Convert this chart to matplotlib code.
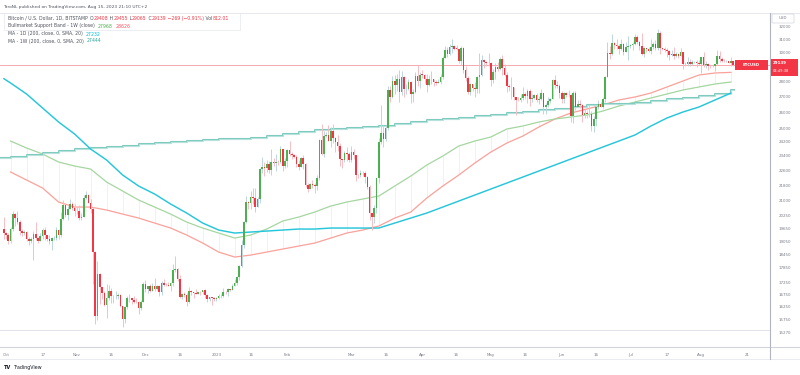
import numpy as np
import pandas as pd
import matplotlib
matplotlib.use("Agg")
import matplotlib.pyplot as plt
from matplotlib.lines import Line2D
from matplotlib.patches import Rectangle, FancyBboxPatch

plt.rcParams['font.family'] = ['DejaVu Sans']

# ---------------- data (daily BTC/USD, Bitstamp, 2022-09-30 .. 2023-08-15) ----------------
start_date = "2022-09-30"
open0 = 19590
close = [
    19423,
    # Oct
    19310, 19057, 19623, 20336, 20160, 19955, 19532, 19417, 19446, 19141, 19052, 19157, 19382, 19185, 19068, 19268,
    19550, 19334, 19139, 19053, 19172, 19208, 19567, 19345, 20095, 20771, 20295, 20595, 20818, 20635, 20495,
    # Nov
    20485, 20159, 20209, 21148, 21300, 20905, 20591, 18541, 15880, 17586, 17034, 16800, 16331, 16619, 16900,
    16663, 16687, 16697, 16712, 16280, 15781, 16226, 16600, 16602, 16522, 16458, 16428, 16213, 16443, 17168,
    # Dec
    16967, 17089, 16885, 17105, 16967, 17089, 16837, 17224, 17129, 17128, 17104, 17206, 17776, 17808, 17363, 16631,
    16776, 16737, 16437, 16895, 16823, 16819, 16778, 16837, 16830, 16918, 16707, 16547, 16633, 16603, 16542,
    # Jan
    16616, 16672, 16675, 16850, 16831, 16950, 16943, 17091, 17196, 17446, 17934, 18869, 19930, 20954, 20871, 21185,
    21133, 20677, 21071, 22667, 22783, 22707, 22916, 22633, 23060, 23009, 23078, 23031, 23774, 22840, 23125,
    # Feb
    23732, 23488, 23431, 23326, 22932, 22762, 23264, 22939, 21797, 21625, 21862, 21783, 21773, 22199, 24327, 23517,
    24565, 24637, 24282, 24833, 24436, 24188, 23947, 23198, 23175, 23555, 23492, 23147,
    # Mar
    23646, 23470, 22362, 22353, 22435, 22429, 22219, 21718, 20363, 20187, 20633, 22163, 24197, 24746, 24375, 25052,
    27423, 26965, 28038, 27767, 28175, 27307, 28333, 27493, 27494, 27994, 27139, 27268, 28348, 28033, 28478,
    # Apr
    28465, 28199, 27790, 28168, 28175, 27943, 27925, 27948, 28333, 29653, 30235, 29891, 30399, 30485, 30318, 30315,
    29445, 30397, 28823, 28245, 27276, 27817, 27591, 27525, 28307, 28422, 29473, 29340, 29249, 29268,
    # May
    28091, 28680, 29031, 28848, 29535, 28904, 28454, 27694, 27658, 27621, 26988, 26804, 26784, 26930, 27171, 27036,
    27398, 26832, 26890, 27129, 26753, 26851, 27225, 26334, 26476, 26719, 26868, 28085, 27745, 27702, 27219,
    # Jun
    26819, 27249, 27075, 27119, 25760, 27238, 26345, 26498, 26477, 25841, 25941, 25902, 25918, 25125, 25576, 26327,
    26510, 26336, 26851, 28327, 30027, 29912, 30695, 30548, 30480, 30271, 30689, 30086, 30445, 30477,
    # Jul
    30590, 30620, 31156, 30777, 30514, 29909, 30346, 30292, 30171, 30414, 30620, 30391, 31476, 30334, 30295, 30249,
    30145, 29856, 29913, 29792, 29908, 29795, 30083, 29176, 29228, 29354, 29210, 29319, 29357, 29275, 29230,
    # Aug
    29675, 29152, 29176, 29074, 29042, 29041, 29180, 29765, 29561, 29429, 29397, 29415, 29282, 29408, 29139,
]
high = [
    20170,
    19480, 19400, 19700, 20460, 20360, 20460, 20050, 19600, 19560, 19520, 19250, 19220, 19500, 19950, 19220, 19420,
    19680, 19700, 19350, 19350, 19250, 19260, 19690, 19600, 20410, 21020, 20870, 20740, 21090, 20920, 20830,
    20690, 20780, 20400, 21290, 21480, 21360, 21070, 20670, 18590, 18150, 17650, 17060, 16880, 17180, 17120,
    17000, 16740, 16880, 16800, 16760, 16290, 16280, 16690, 16770, 16610, 16690, 16590, 16480, 16530, 17240,
    17320, 17100, 17160, 17200, 17420, 17110, 17140, 17300, 17360, 17230, 17260, 17240, 18000, 18390, 17850, 17530,
    16800, 16860, 16810, 17060, 16910, 16860, 16950, 16860, 16870, 16940, 16960, 16780, 16650, 16620, 16630,
    16630, 16760, 16770, 16990, 16880, 17020, 16970, 17180, 17400, 17490, 17990, 19100, 19990, 21260, 21000, 21470,
    21640, 21650, 21190, 22740, 23350, 23060, 23170, 23120, 23780, 23260, 23500, 23160, 23940, 23810, 23300,
    23810, 24250, 23590, 23490, 23440, 23150, 23360, 23450, 22990, 21920, 21900, 22060, 21890, 22320, 24380, 25250,
    24860, 24770, 25180, 25100, 25250, 24470, 24600, 24150, 23220, 23680, 23880, 23600,
    23970, 23780, 23470, 22400, 22620, 22560, 22540, 22270, 21810, 20310, 20790, 22200, 24450, 26450, 25220, 25200,
    27700, 27720, 28390, 28450, 28530, 28790, 28720, 28390, 27800, 28180, 28010, 27500, 28650, 29170, 28650,
    28800, 28530, 28480, 28440, 28740, 28190, 28100, 28170, 28520, 29760, 30540, 30470, 30620, 31000, 30600, 30560,
    30320, 30490, 30410, 29080, 28370, 27880, 27820, 28000, 28390, 30000, 29870, 29590, 29450, 29960,
    29330, 28880, 29270, 29370, 29680, 29840, 29200, 28650, 27830, 28330, 27640, 26990, 26990, 27180, 27660, 27270,
    27480, 27490, 27170, 27160, 27260, 27050, 27500, 27220, 26600, 26940, 26920, 28200, 28450, 28050, 27830,
    27340, 27320, 27320, 27440, 27150, 27350, 27380, 26800, 26790, 26540, 26220, 26080, 26440, 26100, 25740, 26480,
    26780, 26680, 27000, 28400, 30800, 30500, 31400, 30800, 31060, 30660, 31000, 30700, 30830, 31280,
    30650, 30790, 31380, 31330, 30880, 31500, 30450, 30380, 30440, 31030, 30800, 30970, 31810, 31640, 30390, 30440,
    30340, 30240, 30200, 30420, 30050, 30000, 30340, 30100, 29380, 29690, 29570, 29520, 29410, 29470, 29510,
    29740, 30040, 29410, 29310, 29110, 29170, 29240, 30200, 30120, 29680, 29540, 29470, 29450, 29680, 29455,
]
low = [
    19160,
    19160, 18930, 18960, 19500, 19750, 19860, 19330, 19260, 19320, 19030, 18870, 18970, 18190, 19080, 18980, 19050,
    19160, 19100, 19070, 18900, 18650, 19110, 19080, 19160, 19240, 20060, 20210, 20020, 20560, 20520, 20240,
    20350, 20060, 20040, 20190, 21080, 20880, 20400, 17170, 15590, 15760, 16380, 16550, 16270, 15820, 16540,
    16400, 16420, 16550, 16560, 16230, 15480, 15620, 16160, 16460, 16360, 16400, 16400, 15990, 16110, 16430,
    16860, 16790, 16860, 16880, 16880, 16920, 16680, 16740, 17070, 17090, 17080, 16880, 17090, 17660, 17280, 16590,
    16580, 16660, 16300, 16400, 16740, 16590, 16760, 16780, 16730, 16780, 16600, 16460, 16490, 16340, 16480,
    16500, 16550, 16600, 16660, 16750, 16680, 16900, 16910, 17090, 17150, 17320, 17910, 18720, 19880, 20560, 20600,
    20850, 20430, 20660, 20870, 22440, 22300, 22530, 22460, 22330, 22830, 22540, 22880, 23000, 22550, 22740,
    22760, 23390, 23220, 23260, 22780, 22640, 22760, 22690, 21700, 21460, 21600, 21640, 21370, 21550, 22050, 23460,
    23350, 24460, 24270, 23880, 24150, 23590, 23650, 22860, 22740, 23080, 23120, 23040,
    23030, 23240, 22030, 22200, 22210, 22310, 21940, 21600, 20050, 19570, 19890, 20380, 21930, 24070, 23930, 24260,
    24920, 26680, 26900, 27190, 27390, 26650, 27120, 27000, 27200, 27420, 26560, 26650, 27240, 27730, 27540,
    28260, 27880, 27270, 27670, 27830, 27720, 27780, 27880, 27800, 28170, 29620, 29680, 29860, 30020, 30230, 30180,
    29270, 29110, 28610, 28010, 27140, 27130, 27350, 26970, 27210, 27250, 28390, 28900, 29040, 29100,
    27680, 27900, 28150, 28690, 28810, 28420, 28400, 27280, 27350, 26870, 26760, 25820, 26700, 26620, 26760, 26860,
    26600, 26400, 26650, 26860, 26670, 26530, 26810, 25880, 25870, 26340, 26560, 26850, 27560, 27570, 26880,
    26600, 26560, 26940, 26970, 25400, 25360, 26120, 26320, 26290, 25390, 25620, 25660, 25730, 24830, 24790, 25160,
    26190, 26300, 26260, 26650, 28280, 29540, 29820, 30260, 30300, 29930, 30230, 29880, 30040, 29520,
    30330, 30190, 30570, 30640, 30220, 29850, 29700, 30050, 30080, 29950, 30280, 30250, 30250, 29950, 30250, 30080,
    29680, 29520, 29760, 29580, 29730, 29630, 29750, 28870, 29060, 29100, 29090, 29120, 29260, 29030, 29110,
    28600, 28970, 28960, 28770, 28950, 28970, 28700, 29140, 29370, 29350, 29330, 29360, 29260, 29070, 29065,
]

# weekly indicator values (one per week, Mondays from 2022-10-03)
week_start = "2022-10-03"
bmsb_ema21 = [24252, 23846, 23503, 23053, 22831, 22666, 21965, 21493, 21031, 20678, 20331, 19942, 19656, 19420,
              19186, 19326, 19608, 19991, 20185, 20430, 20728, 20929, 21082, 21235, 21754, 22286, 22886, 23389,
              23961, 24252, 24488, 24966, 25147, 25391, 25576, 25700, 25824, 26075, 26392, 26648, 26907, 27168,
              27432, 27631, 27832, 27968]
bmsb_sma20 = [22503, 22072, 21649, 20929, 20678, 20678, 20529, 20331, 20136, 19894, 19656, 19326, 18956, 18548,
              18326, 18414, 18548, 18683, 18819, 18956, 19186, 19420, 19561, 19751, 20136, 20430, 21133, 21754,
              22340, 22997, 23616, 24135, 24547, 25087, 25576, 25949, 26201, 26456, 26777, 26972, 27234, 27631,
              28034, 28444, 28582, 28626]
ma200d_first = 28200   # value on 2022-09-30
ma200d = [27899, 27168, 26264, 25391, 24666, 23788, 23164, 22340, 21754, 21338, 20828, 20381, 19894, 19561,
          19420, 19467, 19513, 19561, 19608, 19608, 19656, 19656, 19656, 19656, 19894, 20136, 20381, 20678,
          20980, 21286, 21597, 21912, 22232, 22557, 22886, 23221, 23559, 23904, 24252, 24606, 25147, 25638,
          26012, 26328, 26777, 27232]
ma200w_prev = 23277    # week of 2022-09-26
ma200w = [23333, 23446, 23559, 23674, 23788, 23846, 23904, 23961, 24077, 24135, 24194, 24252, 24311, 24370,
          24370, 24429, 24547, 24666, 24786, 24905, 24966, 25026, 25087, 25147, 25269, 25391, 25514, 25576,
          25638, 25762, 25824, 25949, 26012, 26138, 26201, 26328, 26456, 26519, 26519, 26584, 26712, 26842,
          26907, 27037, 27168, 27444]

last_price = 29139
price_ticks = [32000, 31000, 30000, 28000, 27000, 26000, 25000, 24200, 23400, 22600, 21800, 21000, 20250,
               19650, 19050, 18450, 17850, 17250, 16750, 16250, 15750, 15270]
time_tick_dates = ["2022-10-01", "2022-10-17", "2022-11-01", "2022-11-16", "2022-12-01", "2022-12-16",
                   "2023-01-01", "2023-01-16", "2023-02-01", "2023-03-01", "2023-03-16", "2023-04-01",
                   "2023-04-16", "2023-05-01", "2023-05-16", "2023-06-01", "2023-06-16", "2023-07-01",
                   "2023-07-17", "2023-08-01", "2023-08-21"]
time_tick_labels = ["Oct", "17", "Nov", "16", "Dec", "16", "2023", "16", "Feb", "Mar", "16", "Apr", "16",
                    "May", "16", "Jun", "16", "Jul", "17", "Aug", "21"]

# ---------------- setup ----------------
W, H = 800, 375
origin = pd.Timestamp("2022-10-01")
close = np.array(close, float)
high = np.array(high, float)
low = np.array(low, float)
dates = pd.date_range(start_date, periods=len(close), freq="D")
xd = np.asarray((dates - origin).days, float)
opens = np.concatenate([[open0], close[:-1]])
up = close >= opens

wk_dates = pd.date_range(week_start, periods=len(bmsb_ema21), freq="7D")
wx = np.asarray((wk_dates - origin).days, float)

fig = plt.figure(figsize=(W / 100, H / 100), dpi=100)
fig.patch.set_facecolor("white")


def fx(x):
    return x / W


def fy(y):
    return 1 - y / H


pane_top, pane_bot, pane_right = 13, 347, 770
ax = fig.add_axes([0, fy(pane_bot), fx(pane_right), (pane_bot - pane_top) / H])
ax.set_yscale("log")
ax.set_ylim(14748, 33038)
ax.set_xlim(-2.62, 334.07)
for s in ax.spines.values():
    s.set_visible(False)
ax.set_facecolor("white")

GREEN = "#4caf50"
RED = "#f23645"
AXC = "#787b86"

# price line and level line
ax.axhline(last_price, color="#f59aa3", lw=0.6, zorder=1)
ax.axhline(15367, color="#e0e3eb", lw=0.7, zorder=1)

# Bull market support band (weekly)
ax.vlines(wx, np.minimum(bmsb_ema21, bmsb_sma20), np.maximum(bmsb_ema21, bmsb_sma20),
          color="#fff4bf", lw=0.7, zorder=2)
ax.plot(wx, bmsb_sma20, color="#f9a19a", lw=0.9, zorder=3)
ax.plot(wx, bmsb_ema21, color="#a5d6a0", lw=0.9, zorder=3)

# 200 week MA (step)
tx = np.concatenate([[wx[0] - 7], wx, [xd[-1] + 0.5]])
tv = np.concatenate([[ma200w_prev], ma200w, [ma200w[-1]]])
ax.step(tx, tv, where="post", color="#80cbc0", lw=1.5, zorder=3)
ax.step(tx, tv, where="post", color="#d9f1ec", lw=0.45, zorder=3)

# 200 day MA
cx = np.concatenate([[xd[0]], wx, ])
cv = np.concatenate([[ma200d_first], ma200d])
ax.plot(cx, cv, color="#26c6da", lw=1.05, zorder=3, solid_capstyle="round")

# candles
wick_up, wick_dn = "#bcd6e2", "#f8bec4"
ax.vlines(xd[up], low[up], high[up], color=wick_up, lw=0.7, zorder=4)
ax.vlines(xd[~up], low[~up], high[~up], color=wick_dn, lw=0.7, zorder=4)
body_lo = np.minimum(opens, close)
body_h = np.maximum(np.abs(close - opens), body_lo * 0.0006)
ax.bar(xd, body_h, bottom=body_lo, width=0.7, color=np.where(up, GREEN, RED), lw=0, zorder=5)

# axes ticks
ax.yaxis.set_minor_locator(matplotlib.ticker.NullLocator())
ax.set_yticks(price_ticks)
ax.set_yticklabels([str(v) for v in price_ticks])
ax.yaxis.tick_right()
ax.tick_params(axis="y", length=0, pad=6.3, labelsize=2.9, labelcolor=AXC)
tick_x = [(pd.Timestamp(d) - origin).days for d in time_tick_dates]
ax.set_xticks(tick_x)
ax.set_xticklabels(time_tick_labels)
ax.xaxis.set_minor_locator(matplotlib.ticker.NullLocator())
ax.tick_params(axis="x", length=0, pad=4.0, labelsize=2.9, labelcolor=AXC)

# frame lines
LC = "#d1d4dc"
fig.add_artist(Line2D([0, 1], [fy(12.5)] * 2, color="#e6e8ee", lw=0.7))
fig.add_artist(Line2D([0, 1], [fy(347)] * 2, color=LC, lw=0.8))
fig.add_artist(Line2D([0, 1], [fy(359)] * 2, color="#e6e8ee", lw=0.6))
fig.add_artist(Line2D([fx(770)] * 2, [fy(13), fy(359)], color="#b2b5be", lw=0.8))

# USD box
fig.add_artist(FancyBboxPatch((fx(772), fy(23)), fx(22), 9 / H, boxstyle="round,pad=0,rounding_size=0.002",
                              facecolor="white", edgecolor="#d1d4dc", lw=0.5, zorder=10))
fig.text(fx(783), fy(18), "USD", fontsize=2.9, color=AXC, ha="center", va="center", zorder=11)

# last price labels
fig.add_artist(Rectangle((fx(735), fy(69.5)), fx(33), 9 / H, facecolor=RED, edgecolor="none", zorder=10))
fig.text(fx(751.5), fy(65), "BTCUSD", fontsize=2.7, color="white", ha="center", va="center",
         fontweight="bold", zorder=11)
fig.add_artist(Rectangle((fx(771), fy(76)), fx(27), 17 / H, facecolor=RED, edgecolor="none", zorder=10))
fig.text(fx(773), fy(63.5), str(last_price), fontsize=2.9, color="white", ha="left", va="center",
         fontweight="bold", zorder=11)
fig.text(fx(773), fy(71.5), "04:49:38", fontsize=2.6, color="white", ha="left", va="center", zorder=11)

# header + legend
renderer = fig.canvas.get_renderer()


def chain(x, y, parts, fs):
    for s, c in parts:
        t = fig.text(fx(x), fy(y), s, fontsize=fs, color=c, ha="left", va="baseline")
        x += t.get_window_extent(renderer).width


TXT = "#50535e"
fig.text(fx(3), fy(8), "TaroNL published on TradingView.com, Aug 15, 2023 21:10 UTC+2",
         fontsize=3.2, color=TXT, ha="left", va="baseline")
fig.add_artist(Rectangle((fx(4), fy(29.5)), fx(236), 16.5 / H, facecolor="none", edgecolor="#e6e8ee", lw=0.5))
FS = 3.35
chain(7.5, 20, [("Bitcoin / U.S. Dollar, 1D, BITSTAMP  ", TXT), ("O", TXT), ("29408", RED), (" H", TXT),
                ("29455", RED), (" L", TXT), ("29065", RED), (" C", TXT), ("29139", RED),
                (" \u2212269 (\u22120.91%)", RED), (" Vol", TXT), ("812.01", RED)], FS)
chain(7.5, 27.5, [("Bullmarket Support Band - 1W (close)  ", TXT), ("27968", "#4caf50"), ("  ", TXT),
                  ("28626", "#f7525f")], FS)
chain(7.5, 35.5, [("MA - 1D (200, close, 0, SMA, 20)  ", TXT), ("27232", "#00bcd4")], FS)
chain(7.5, 42.5, [("MA - 1W (200, close, 0, SMA, 20)  ", TXT), ("27444", "#26a69a")], FS)

# TradingView mark
fig.text(fx(4), fy(369), "TV", fontsize=3.6, color="#131722", fontweight="bold", ha="left", va="baseline")
fig.text(fx(14), fy(369), "TradingView", fontsize=3.4, color="#131722", ha="left", va="baseline")

fig.savefig("out.png", dpi=100, facecolor="white")
